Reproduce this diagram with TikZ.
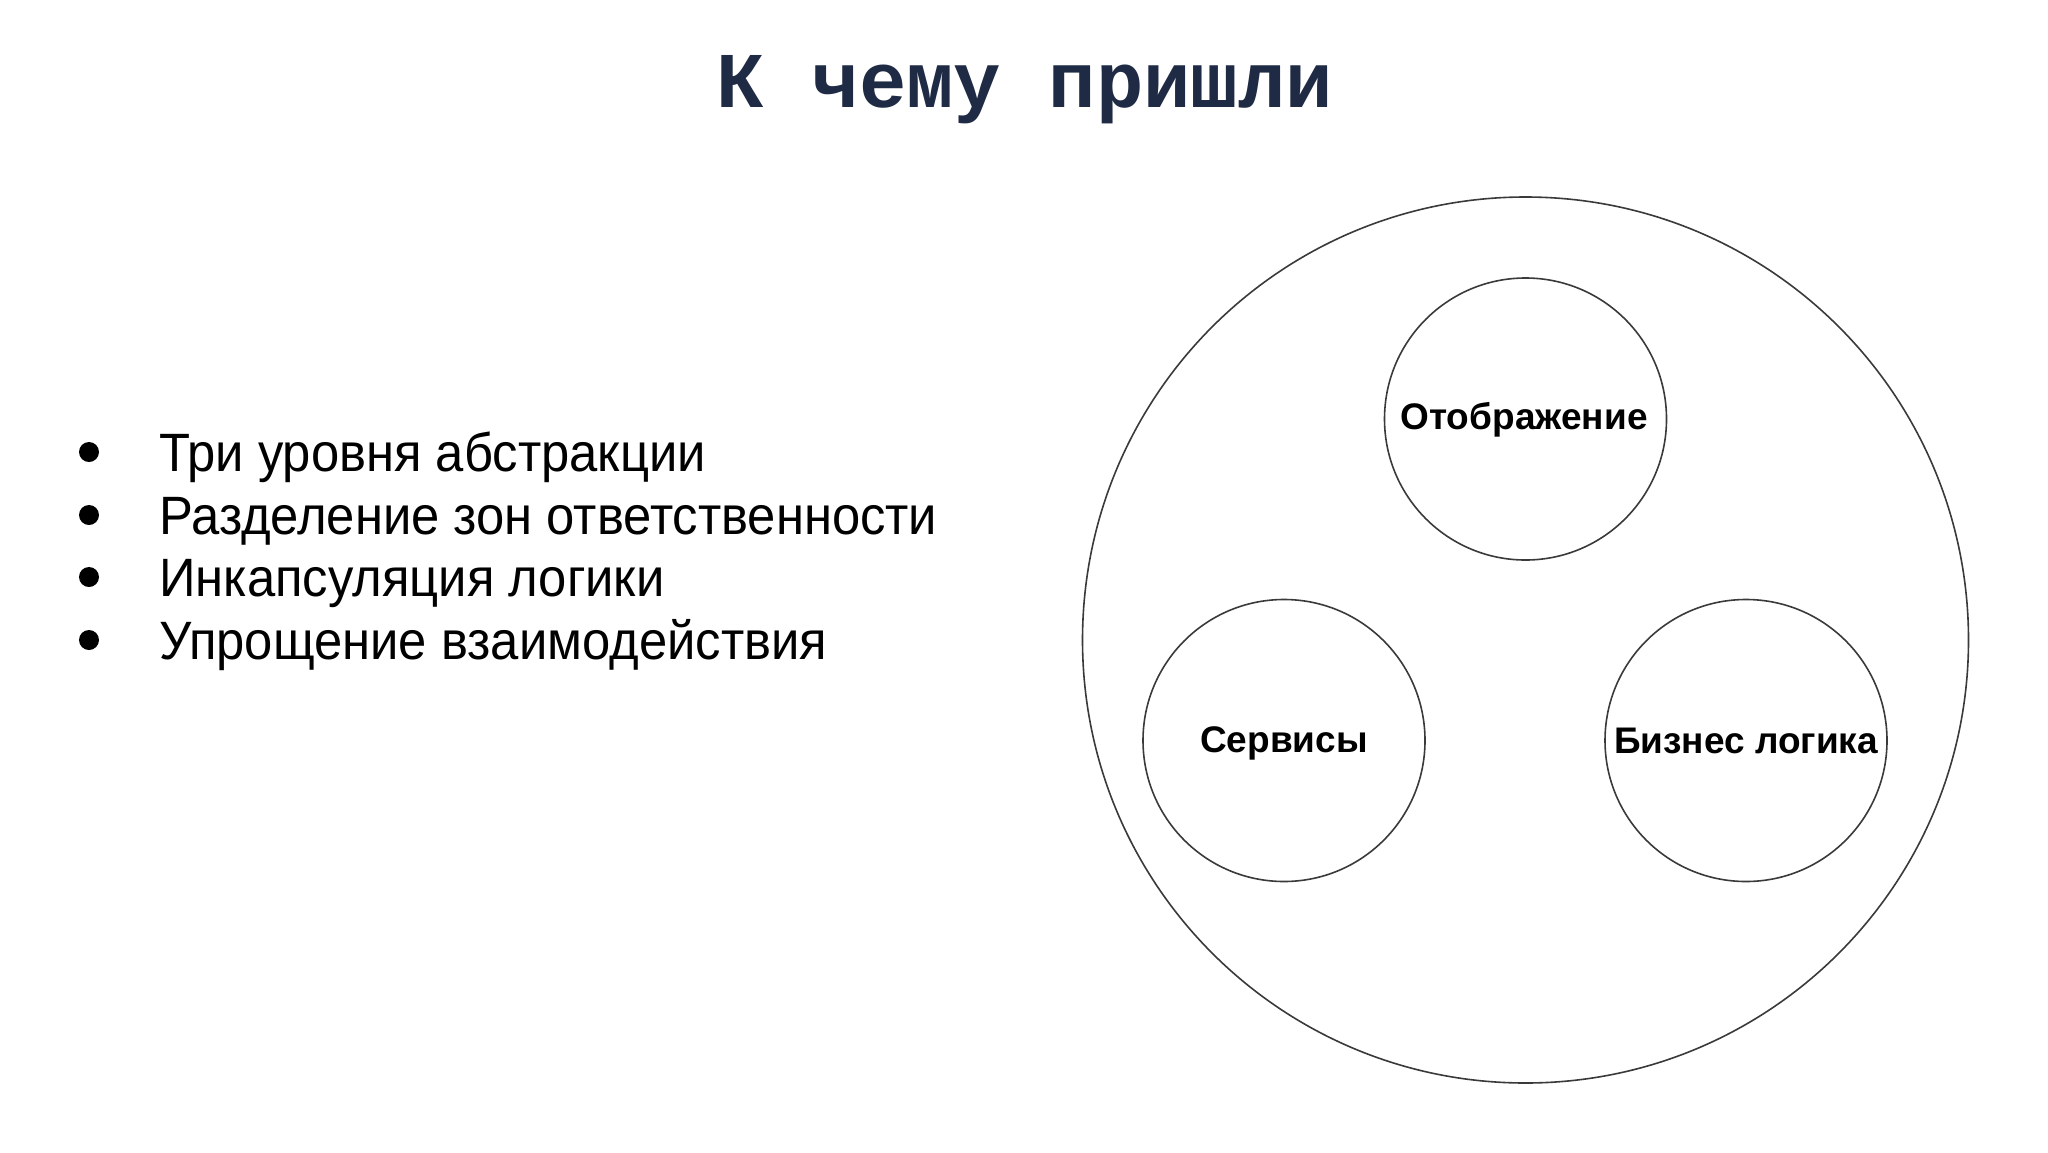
\documentclass[tikz,border=0pt]{standalone}
\usepackage{fontspec}
\setmainfont{Liberation Sans}
\newfontfamily\bodyfont[FakeStretch=0.94]{Liberation Sans}
\newfontfamily\titlefont{Liberation Mono}
\definecolor{titleblue}{HTML}{1F2A44}
\definecolor{ringgray}{HTML}{3A3A3A}
\begin{document}
\begin{tikzpicture}[x=1pt,y=-1pt,
  ring/.style={circle,draw=ringgray,line width=1.6pt,inner sep=0pt},
  lbl/.style={font=\fontsize{37}{44}\selectfont\bfseries,text=black},
  item/.style={anchor=base west,font=\bodyfont\fontsize{54}{62}\selectfont,text=black,inner sep=0pt},
  dot/.style={circle,fill=black,minimum size=20pt,inner sep=0pt}]
\useasboundingbox (0,0) rectangle (2048,1152);
\node[anchor=base,font=\titlefont\bfseries\fontsize{79}{90}\selectfont,text=titleblue,inner sep=0pt] (title) at (1025,107) {К чему пришли};
% bullets
\node[dot] (b1) at (89,452) {};
\node[dot] (b2) at (89,515) {};
\node[dot] (b3) at (89,577) {};
\node[dot] (b4) at (89,640) {};
\node[item] (t1) at (159,471.5) {Три уровня абстракции};
\node[item] (t2) at (159,534) {Разделение зон ответственности};
\node[item] (t3) at (159,596.5) {Инкапсуляция логики};
\node[item] (t4) at (159,659) {Упрощение взаимодействия};
% circles
\node[ring,minimum size=886pt] (outer) at (1525.5,640) {};
\node[ring,minimum size=282pt] (top) at (1525.5,419) {};
\node[ring,minimum size=282pt] (left) at (1284,740.5) {};
\node[ring,minimum size=282pt] (right) at (1746,740.5) {};
\node[lbl] (ltop) at (1524,420) {Отображение};
\node[lbl] (lleft) at (1284,743) {Сервисы};
\node[lbl] (lright) at (1746,741) {Бизнес логика};
\end{tikzpicture}
\end{document}
